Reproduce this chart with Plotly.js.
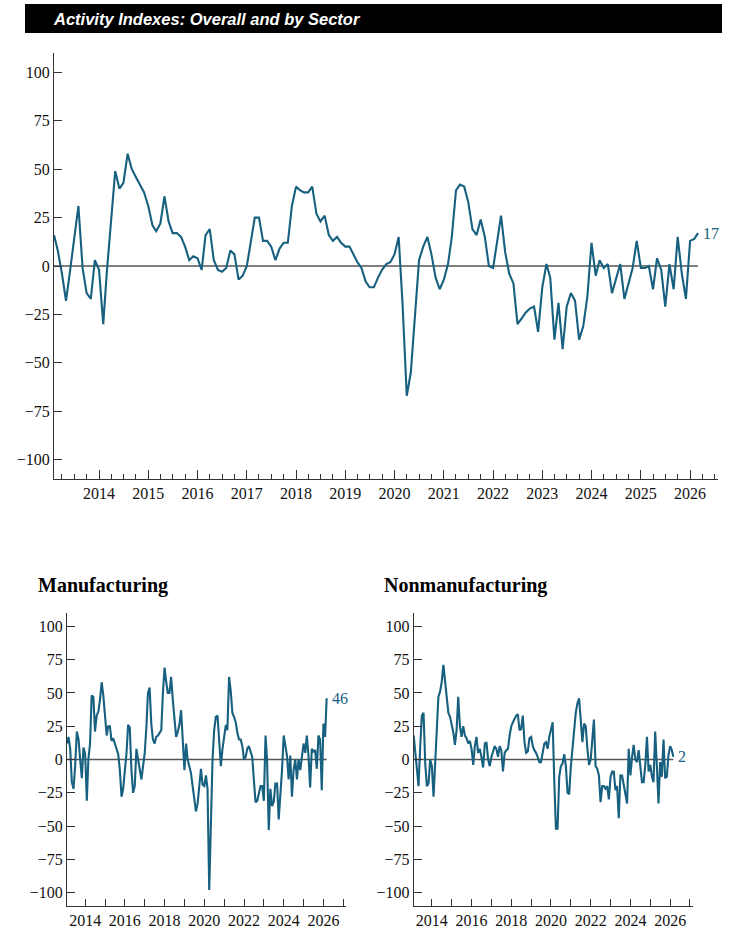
<!DOCTYPE html>
<html>
<head>
<meta charset="utf-8">
<script src="https://cdn.plot.ly/plotly-3.0.1.min.js"></script>
<style>
  html, body { margin: 0; padding: 0; background: #fff; }
  #chart { width: 744px; height: 929px; }
</style>
</head>
<body>
<div id="chart"></div>
<script>
// ---- Data: monthly, Feb 2013 through Mar 2026 ----
const startYear = 2013;
const startMonth = 2;

const overall = [
  16, 8, -4, -18, -2, 15, 31, -1, -14, -17, 3,            // 2013 (Feb-Dec)
  -2, -30, -2, 22, 49, 40, 43, 58, 50, 46, 42, 38,        // 2014
  31, 21, 18, 22, 36, 23, 17, 17, 15, 10, 3, 5,           // 2015
  4, -2, 16, 19, 3, -2, -3, -1, 8, 6, -7, -5,             // 2016
  0, 12, 25, 25, 13, 13, 10, 3, 9, 12, 12, 31,            // 2017
  41, 39, 38, 38, 41, 27, 23, 26, 16, 13, 15, 12,         // 2018
  10, 10, 6, 2, -1, -8, -11, -11, -6, -2, 1, 2,           // 2019
  6, 15, -20, -67, -55, -28, 3, 10, 15, 6, -6, -12,       // 2020
  -7, 1, 15, 39, 42, 41, 33, 19, 16, 24, 15, 0,           // 2021
  -1, 13, 26, 7, -4, -9, -30, -27, -24, -22, -21, -34,    // 2022
  -11, 1, -6, -38, -19, -43, -21, -14, -18, -38, -31, -16,// 2023
  12, -5, 3, -1, 1, -14, -6, 1, -17, -9, -1, 13,          // 2024
  -1, -1, 0, -12, 4, -2, -21, 1, -12, 15, -4, -17,        // 2025
  13, 14, 17                                              // 2026 (Jan-Mar)
];

const manufacturing = [
  12, 17, 8, -17, -22, -5, 21, 15, 0, -14, 9,             // 2013
  4, -31, 0, 12, 48, 47, 21, 33, 36, 45, 58, 48,          // 2014
  35, 18, 25, 25, 14, 16, 12, 8, 4, -8, -28, -22,         // 2015
  -10, 5, 26, 24, -8, -25, -20, 8, 0, -8, -15, -5,        // 2016
  5, 25, 50, 54, 27, 15, 12, 17, 18, 20, 22, 50,          // 2017
  69, 58, 50, 50, 62, 45, 30, 17, 21, 26, 37, 12,         // 2018
  -8, 12, 0, -5, -10, -20, -30, -39, -33, -20, -7, -19,   // 2019
  -20, -12, -22, -98, -50, 0, 22, 32, 33, 10, -5, 8,      // 2020
  18, 26, 22, 62, 52, 35, 32, 28, 20, 15, 15, 10,         // 2021
  0, 2, 8, 10, 6, 2, -15, -32, -31, -25, -20, -20,        // 2022
  -31, 18, 0, -53, -22, -35, -32, -18, -18, -45, -27, -8, // 2023
  18, 8, 3, -15, 3, -28, -8, 0, -15, 0, -8, 2,            // 2024
  12, 5, 18, 3, -21, 8, 6, 7, -7, 18, 15, -23,            // 2025
  27, 17, 46                                              // 2026
];

const nonmanufacturing = [
  18, 7, -5, -20, 10, 33, 35, -3, -20, -18, 0,            // 2013
  -5, -28, 0, 27, 47, 51, 58, 71, 58, 47, 35, 32,         // 2014
  27, 20, 11, 22, 47, 25, 17, 25, 18, 16, 12, 14,         // 2015
  8, -4, 10, 17, 5, 8, 2, -6, 12, 13, 0, -5,              // 2016
  2, 7, 10, 8, 2, 10, 7, -9, 5, 7, 8, 18,                 // 2017
  25, 28, 31, 33, 34, 22, 23, 33, 13, 5, 6, 16,           // 2018
  17, 10, 7, 5, 2, -2, -2, 5, 12, 13, 8, 17,              // 2019
  22, 28, -15, -52, -52, -13, -5, -3, 4, -5, -25, -26,    // 2020
  -5, 10, 22, 35, 42, 46, 30, 13, 27, 25, 8, -4,          // 2021
  0, 18, 30, -5, -7, -12, -32, -20, -20, -22, -20, -30,   // 2022
  -13, -9, -9, -23, -20, -44, -12, -12, -20, -27, -33, 8, // 2023
  -12, 2, 11, 0, -2, 7, -3, -17, -17, -4, 17, -9,         // 2024
  -4, -13, -17, 21, -4, -33, -2, -13, 15, -14, -13, 3,    // 2025
  10, 7, 2                                                // 2026
];

const yTicks = [-100, -75, -50, -25, 0, 25, 50, 75, 100];
const titleText = 'Activity Indexes: Overall and by Sector';
const panelTitles = ['Manufacturing', 'Nonmanufacturing'];

// ---- Build month dates ----
function monthDates(y0, m0, n) {
  const out = [];
  for (let k = 0; k < n; k++) {
    const t = (m0 - 1) + k;
    const y = y0 + Math.floor(t / 12);
    const m = (t % 12) + 1;
    out.push(y + '-' + String(m).padStart(2, '0') + '-01');
  }
  return out;
}
const dates = monthDates(startYear, startMonth, overall.length);
const lastDate = dates[dates.length - 1];

const W = 744, H = 929;
const LINE = '#17607f';
const AX = '#333333';
const SERIF = 'Liberation Serif, Times New Roman, serif';
const px = v => v / W;
const py = v => (H - v) / H;

function trace(y, xa, ya) {
  return { x: dates, y: y, xaxis: xa, yaxis: ya, type: 'scatter', mode: 'lines',
           line: { color: LINE, width: 2.1 }, hoverinfo: 'skip' };
}

function yAxis(domain, anchor) {
  return {
    domain: domain, anchor: anchor, range: [-110, 110],
    tickvals: yTicks, ticks: 'inside', ticklen: 8, tickcolor: AX, tickwidth: 1,
    showline: true, linecolor: AX, linewidth: 1, showgrid: false, zeroline: false,
    tickfont: { family: SERIF, size: 16, color: '#111' }, ticklabelstandoff: 0
  };
}

function xAxisMain(domain, anchor) {
  return {
    domain: domain, anchor: anchor, type: 'date',
    range: ['2013-02-01', '2026-07-27'],
    tick0: '2014-01-01', dtick: 'M12', tickformat: '%Y',
    ticks: 'inside', ticklen: 9, tickcolor: AX, tickwidth: 1,
    minor: { dtick: 'M3', tick0: '2014-01-01', ticks: 'inside', ticklen: 5, tickcolor: AX, showgrid: false },
    showline: true, linecolor: AX, linewidth: 1, showgrid: false, zeroline: false,
    tickfont: { family: SERIF, size: 16, color: '#111' }
  };
}

function xAxisSmall(domain, anchor) {
  return {
    domain: domain, anchor: anchor, type: 'date',
    range: ['2013-02-01', '2027-02-20'],
    tick0: '2014-01-01', dtick: 'M24', tickformat: '%Y',
    ticks: 'inside', ticklen: 7, tickcolor: AX, tickwidth: 1,
    minor: { dtick: 'M12', tick0: '2014-01-01', ticks: 'inside', ticklen: 7, tickcolor: AX, showgrid: false },
    showline: true, linecolor: AX, linewidth: 1, showgrid: false, zeroline: false,
    tickfont: { family: SERIF, size: 16, color: '#111' }
  };
}

const mainY = [py(479), py(53)];
const smallY = [py(906), py(613)];

const data = [
  trace(overall, 'x', 'y'),
  trace(manufacturing, 'x2', 'y2'),
  trace(nonmanufacturing, 'x3', 'y3')
];

function zeroLine(xr, yr) {
  return { type: 'line', xref: xr, yref: yr, x0: dates[0], x1: lastDate, y0: 0, y1: 0,
           line: { color: '#555', width: 1.5 }, layer: 'below' };
}

function endLabel(series, xr, yr) {
  const v = series[series.length - 1];
  return { xref: xr, yref: yr, x: lastDate, y: v, text: String(v), showarrow: false,
           xanchor: 'left', yanchor: 'middle', xshift: 3,
           font: { family: SERIF, size: 16, color: LINE } };
}

const layout = {
  width: W, height: H,
  margin: { l: 0, r: 0, t: 0, b: 0 },
  paper_bgcolor: '#fff', plot_bgcolor: 'rgba(0,0,0,0)',
  showlegend: false,
  xaxis: xAxisMain([px(54), px(718)], 'y'),
  yaxis: yAxis(mainY, 'x'),
  xaxis2: xAxisSmall([px(67), px(346)], 'y2'),
  yaxis2: yAxis(smallY, 'x2'),
  xaxis3: xAxisSmall([px(413.7), px(692.7)], 'y3'),
  yaxis3: yAxis(smallY, 'x3'),
  shapes: [
    { type: 'rect', xref: 'paper', yref: 'paper', x0: px(25), x1: px(722), y0: py(33), y1: py(4),
      fillcolor: '#000', line: { width: 0 }, layer: 'below' },
    zeroLine('x', 'y'), zeroLine('x2', 'y2'), zeroLine('x3', 'y3')
  ],
  annotations: [
    { xref: 'paper', yref: 'paper', x: px(51), y: py(18.5), xanchor: 'left', yanchor: 'middle',
      text: '<b><i>' + titleText + '</i></b>', showarrow: false,
      font: { family: 'Liberation Sans, Arial, sans-serif', size: 16.5, color: '#fff' } },
    { xref: 'paper', yref: 'paper', x: px(36), y: py(585), xanchor: 'left', yanchor: 'middle',
      text: '<b>' + panelTitles[0] + '</b>', showarrow: false,
      font: { family: SERIF, size: 20, color: '#000' } },
    { xref: 'paper', yref: 'paper', x: px(382), y: py(585), xanchor: 'left', yanchor: 'middle',
      text: '<b>' + panelTitles[1] + '</b>', showarrow: false,
      font: { family: SERIF, size: 20, color: '#000' } },
    endLabel(overall, 'x', 'y'),
    endLabel(manufacturing, 'x2', 'y2'),
    endLabel(nonmanufacturing, 'x3', 'y3')
  ]
};

Plotly.newPlot('chart', data, layout, { staticPlot: true, displayModeBar: false });
</script>
</body>
</html>
